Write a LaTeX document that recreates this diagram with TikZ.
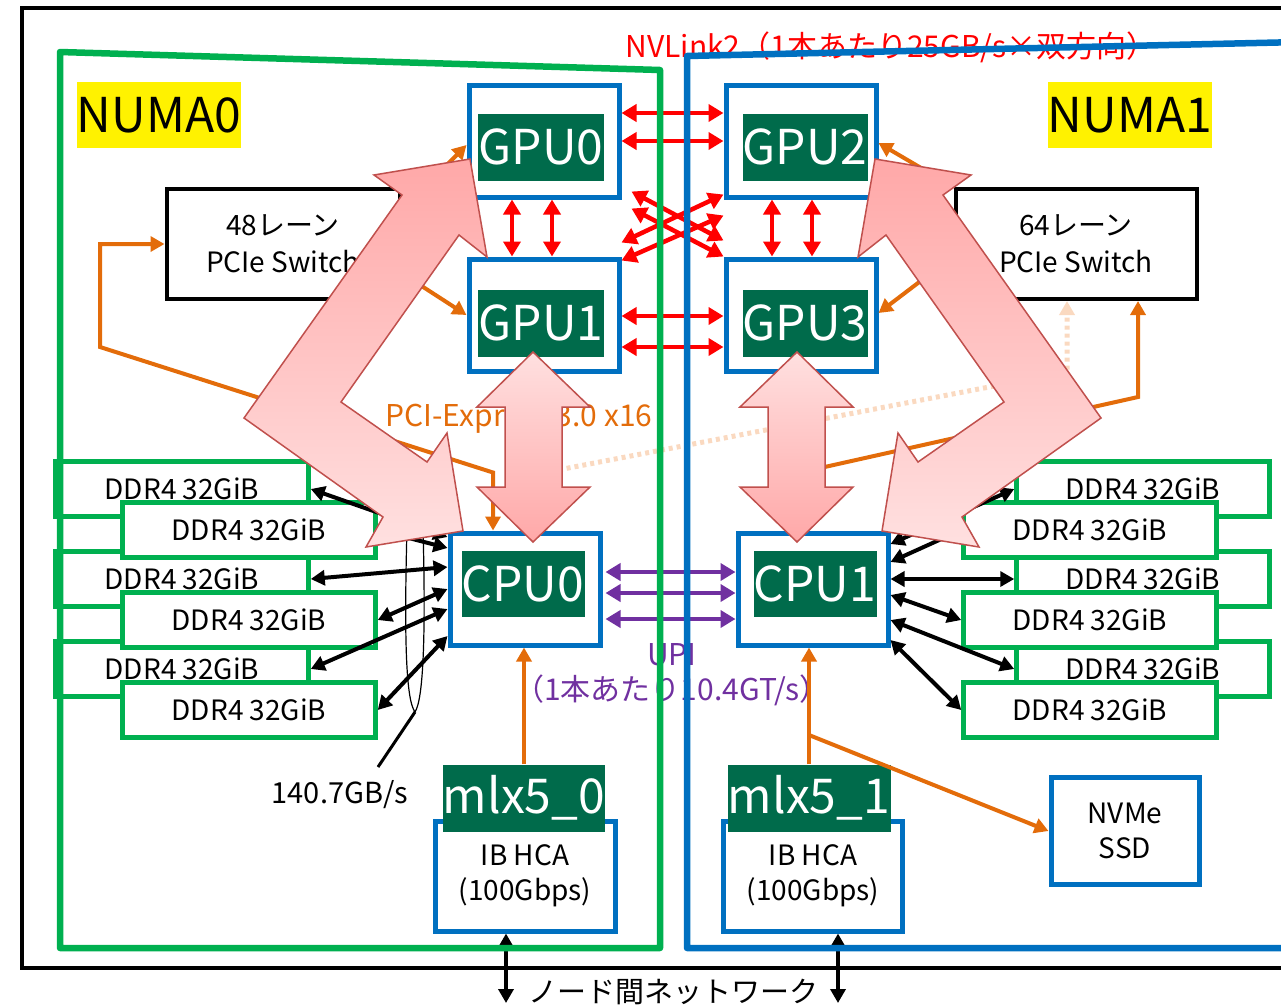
\documentclass[tikz,border=0pt]{standalone}
\usepackage{fontspec}
\setmainfont{Noto Sans CJK JP}
\usetikzlibrary{arrows.meta,positioning}

\definecolor{cblue}{HTML}{0070C0}
\definecolor{cgreen}{HTML}{00B050}
\definecolor{cdark}{HTML}{006B4B}
\definecolor{corange}{HTML}{E36C0A}
\definecolor{cpurple}{HTML}{7030A0}
\definecolor{cfaint}{HTML}{FAD9C0}
\definecolor{pinkdeep}{HTML}{FFA8A8}
\definecolor{pinklight}{HTML}{FFE0E0}
\definecolor{pinkedge}{HTML}{C0504D}

\newcommand{\bigtxt}{\fontsize{48}{50}\selectfont}
\newcommand{\midtxt}{\fontsize{28}{35}\selectfont}
\newcommand{\labtxt}{\fontsize{30}{35}\selectfont}

\tikzset{
  unit/.style={draw=cblue, line width=5pt, fill=white, inner sep=0pt, minimum width=150pt, minimum height=112pt},
  tag/.style={fill=cdark, text=white, font=\bigtxt, inner sep=0pt, minimum height=67pt},
  ddr/.style={draw=cgreen, line width=4.5pt, fill=white, inner sep=0pt, minimum width=253pt, minimum height=55pt, font=\midtxt},
  switchbox/.style={draw=black, line width=4pt, fill=white, align=center, minimum height=110pt, font=\fontsize{28}{37}\selectfont},
  numa/.style={fill=yellow, font=\bigtxt, inner sep=0pt, minimum width=162pt, minimum height=66pt},
  nvl/.style={red, line width=4.5pt, {Triangle[length=15pt,width=17pt]}-{Triangle[length=15pt,width=17pt]}},
  upi/.style={cpurple, line width=4.5pt, {Triangle[length=15pt,width=17pt]}-{Triangle[length=15pt,width=17pt]}},
  mem/.style={black, line width=4pt, {Triangle[length=14pt,width=15pt]}-{Triangle[length=14pt,width=15pt]}},
  pcie/.style={corange, line width=4pt, -{Triangle[length=14pt,width=15pt]}},
  pcieboth/.style={pcie, {Triangle[length=14pt,width=15pt]}-{Triangle[length=14pt,width=15pt]}},
  faint/.style={cfaint, line width=5pt, dash pattern=on 4pt off 4pt, -{Triangle[length=14pt,width=15pt]}},
  bigarrow/.style={draw=pinkedge, line width=1.5pt},
}

\begin{document}
\begin{tikzpicture}[x=1pt, y=-1pt]
  \useasboundingbox (0,0) rectangle (1281,1005);

  % machine outline
  \draw[line width=4pt] (1300,8) -- (22,8) -- (22,968) -- (1300,968);

  % labels
  \node[numa] (numa0) at (159,115) {NUMA0};
  \node[numa] (numa1) at (1130,115) {NUMA1};
  \node[anchor=west, text=red, font=\labtxt] (nvtxt) at (622,47) {NVLink2（1本あたり25GB/s×双方向）};
  \node[anchor=west, text=corange, font=\labtxt] (pcitxt) at (382,419) {PCI-Express 3.0 x16};
  \node[align=center, text=cpurple, font=\labtxt] (upitxt) at (672,675) {UPI\\（1本あたり10.4GT/s）};
  \node[font=\fontsize{29}{29}\selectfont] (bw) at (340,795) {140.7GB/s};
  \node[font=\fontsize{29}{29}\selectfont] (nettxt) at (673,992) {ノード間ネットワーク};

  % GPUs and CPUs
  \node[unit] (gpu0) at (544,141) {};
  \node[tag, minimum width=126pt] (gpu0t) at (541,147) {GPU0};
  \node[unit] (gpu1) at (544,315) {};
  \node[tag, minimum width=126pt] (gpu1t) at (541,323) {GPU1};
  \node[unit] (gpu2) at (801,141) {};
  \node[tag, minimum width=125pt] (gpu2t) at (805,147) {GPU2};
  \node[unit] (gpu3) at (801,315) {};
  \node[tag, minimum width=125pt] (gpu3t) at (805,323) {GPU3};
  \node[unit] (cpu0) at (525,589) {};
  \node[tag, minimum width=123pt, minimum height=66pt] (cpu0t) at (523,584) {CPU0};
  \node[unit] (cpu1) at (813,589) {};
  \node[tag, minimum width=123pt, minimum height=66pt] (cpu1t) at (815,584) {CPU1};

  % PCIe switches
  \node[switchbox, minimum width=233pt] (sw0) at (283,244) {48レーン\\PCIe Switch};
  \node[switchbox, minimum width=241pt] (sw1) at (1076,244) {64レーン\\PCIe Switch};

  % memory
  \foreach \i/\y in {1/489,2/579,3/669} {
    \node[ddr] (ddrLb\i) at (182,\y) {DDR4 32GiB};
    \node[ddr] (ddrRb\i) at (1143,\y) {DDR4 32GiB};
  }
  \foreach \i/\y in {1/530,2/620,3/710} {
    \node[ddr] (ddrLf\i) at (249,\y) {DDR4 32GiB};
    \node[ddr] (ddrRf\i) at (1090,\y) {DDR4 32GiB};
  }

  % HCAs and SSD
  \node[unit, minimum width=180pt, minimum height=110pt, align=center, font=\midtxt] (hca0) at (525,876) {IB HCA\\(100Gbps)};
  \node[tag, minimum width=162pt] (mlx0) at (524,798) {mlx5\_0};
  \node[unit, minimum width=179pt, minimum height=110pt, align=center, font=\midtxt] (hca1) at (813,876) {IB HCA\\(100Gbps)};
  \node[tag, minimum width=163pt] (mlx1) at (809,798) {mlx5\_1};
  \node[unit, minimum width=148pt, minimum height=107pt, align=center, font=\midtxt] (nvme) at (1125,831) {NVMe\\SSD};

  % NVLink
  \draw[nvl] ([yshift=28pt]gpu0.east) -- ([yshift=28pt]gpu2.west);
  \draw[nvl] (gpu0.east) -- (gpu2.west);
  \draw[nvl] ([yshift=-1pt]gpu1.east) -- ([yshift=-1pt]gpu3.west);
  \draw[nvl] ([yshift=-32pt]gpu1.east) -- ([yshift=-32pt]gpu3.west);
  \draw[nvl] ([xshift=-32pt]gpu0.south) -- ([xshift=-32pt]gpu1.north);
  \draw[nvl] ([xshift=8pt]gpu0.south) -- ([xshift=8pt]gpu1.north);
  \draw[nvl] ([xshift=-29pt]gpu2.south) -- ([xshift=-29pt]gpu3.north);
  \draw[nvl] ([xshift=11pt]gpu2.south) -- ([xshift=11pt]gpu3.north);
  \draw[nvl] ([xshift=10pt,yshift=8pt]gpu0.south east) -- ([yshift=16pt]gpu3.north west);
  \draw[nvl] ([xshift=10pt,yshift=-9pt]gpu0.south east) -- (gpu3.north west);
  \draw[nvl] ([yshift=5pt]gpu2.south west) -- ([yshift=14pt]gpu1.north east);
  \draw[nvl] ([yshift=-16pt]gpu2.south west) -- ([yshift=-4pt]gpu1.north east);

  % UPI
  \foreach \s in {17,-4,-30}
    \draw[upi] ([xshift=3pt,yshift=\s pt]cpu0.east) -- ([yshift=\s pt]cpu1.west);

  % PCIe lanes
  \draw[pcieboth] ([xshift=-32pt]cpu0.north) -- ++(0,-58) -- (100,347) -- (100,244) -- (sw0.west);
  \draw[pcie] ([yshift=-24pt]sw0.north east) -- ([yshift=-4pt]gpu0.west);
  \draw[pcie] ([yshift=-29pt]sw0.east) -- (gpu1.west);
  \draw[pcie] (sw1.north west) -- ([yshift=-2pt]gpu2.east);
  \draw[pcie] ([yshift=-12pt]sw1.west) -- ([yshift=2pt]gpu3.east);
  \draw[pcieboth] ([xshift=-13pt]cpu1.north) -- ++(0,-58) -- (1138,397) -- ([xshift=62pt]sw1.south);
  \draw[faint] ([xshift=20pt]cpu0.north) -- ++(0,-58) -- (1067,372) -- ([xshift=-9pt]sw1.south);
  \draw[pcie] (mlx0.north) -- (mlx0.north |- cpu0.south);
  \draw[pcie] (mlx1.north) -- (mlx1.north |- cpu1.south);
  \coordinate (fork) at (809,735);
  \draw[pcie] (fork) -- (nvme.west);

  % memory channels
  \foreach \m/\s in {Lb1/52,Lf1/41,Lb2/22,Lf2/0,Lb3/-20,Lf3/-47}
    \draw[mem] (ddr\m.east) -- ([yshift=\s pt]cpu0.west);
  \foreach \m/\s in {Rb1/45,Rf1/27,Rb2/10,Rf2/-6,Rb3/-31,Rf3/-51}
    \draw[mem] (ddr\m.west) -- ([yshift=\s pt]cpu1.east);
  \coordinate (loopend) at (415,712);
  \coordinate (lead) at (378,767);
  \draw[line width=1.2pt] (407,528) .. controls (404,640) and (406,700) .. (loopend)
    .. controls (423,700) and (426,640) .. (423,528);
  \draw[line width=3pt] (loopend) -- (lead);

  % network
  \coordinate (net0) at (506,1003);
  \coordinate (net1) at (838,1003);
  \draw[mem] (hca0.south -| net0) -- (net0);
  \draw[mem] (hca1.south -| net1) -- (net1);

  % NUMA frames
  \draw[cgreen, line width=6.5pt, line join=round] (660,948) -- (660,70) -- (60,52) -- (60,948) -- cycle;
  \draw[cblue, line width=6.5pt, line join=round] (1300,948) -- (687,948) -- (687,56) -- (1300,42);

  % bandwidth arrows
  \path[bigarrow, top color=pinkdeep, bottom color=pinklight] (470,159) -- (487,257) -- (459,235) -- (341,402)
    -- (427,462) -- (447,433) -- (463,531) -- (366,547) -- (383,517) -- (244,418) -- (402,195) -- (374,175) -- cycle;
  \path[bigarrow, top color=pinkdeep, bottom color=pinklight] (875,159) -- (858,257) -- (886,235) -- (1004,402)
    -- (918,462) -- (898,433) -- (882,531) -- (979,547) -- (962,517) -- (1101,418) -- (943,195) -- (971,175) -- cycle;
  \path[bigarrow, top color=pinklight, bottom color=pinkdeep] (533,352) -- (590,407) -- (562,407) -- (562,487)
    -- (590,487) -- (533,542) -- (477,487) -- (505,487) -- (505,407) -- (477,407) -- cycle;
  \path[bigarrow, top color=pinklight, bottom color=pinkdeep] (797,352) -- (853,407) -- (825,407) -- (825,487)
    -- (853,487) -- (797,542) -- (740,487) -- (768,487) -- (768,407) -- (740,407) -- cycle;
\end{tikzpicture}
\end{document}
